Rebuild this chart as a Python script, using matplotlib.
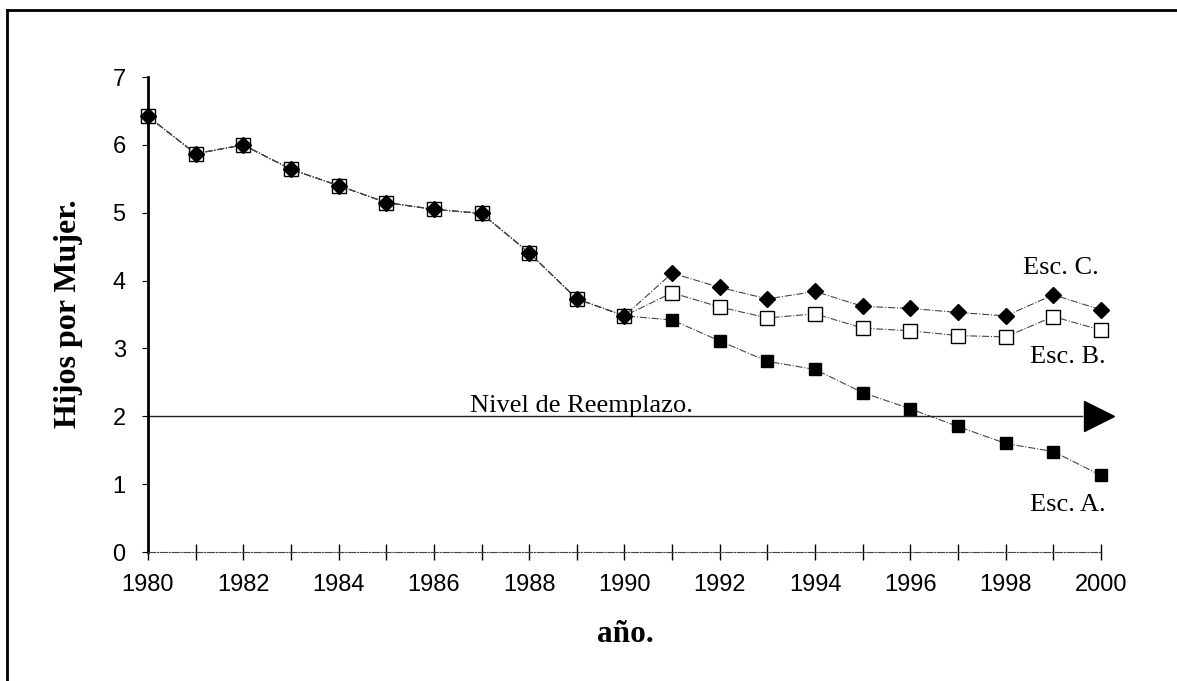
import matplotlib
matplotlib.use('Agg')
import matplotlib.pyplot as plt
from matplotlib.lines import Line2D

years = list(range(1980, 2001))

# history shared by the three scenarios (1980-1990)
historia = [6.42, 5.87, 6.00, 5.64, 5.40, 5.15, 5.05, 4.99, 4.41, 3.73, 3.48]

esc_a = historia + [3.42, 3.11, 2.81, 2.69, 2.35, 2.11, 1.85, 1.60, 1.48, 1.13]
esc_b = historia + [3.82, 3.61, 3.45, 3.51, 3.30, 3.26, 3.19, 3.17, 3.47, 3.27]
esc_c = historia + [4.11, 3.90, 3.73, 3.84, 3.62, 3.59, 3.53, 3.48, 3.79, 3.57]

nivel_reemplazo = 2.0

year_labels = [str(y) if y % 2 == 0 else '' for y in years]
serif = 'Liberation Serif'
sans = 'Liberation Sans'

fig = plt.figure(figsize=(11.77, 6.81), dpi=100)
ax = fig.add_axes([0.1257, 0.1894, 0.8097, 0.6975])

line_kw = dict(color='#444444', linestyle='-.', linewidth=0.8, clip_on=False)
ax.plot(years, esc_a, marker='s', markersize=9, markerfacecolor='black',
        markeredgecolor='black', **line_kw)
ax.plot(years, esc_b, marker='s', markersize=10, markerfacecolor='white',
        markeredgecolor='black', markeredgewidth=1.0, **line_kw)
ax.plot(years, esc_c, marker='D', markersize=8, markerfacecolor='black',
        markeredgecolor='black', **line_kw)

# replacement level line with arrow head
ax.plot([1980, 1999.6], [nivel_reemplazo, nivel_reemplazo], color='#222222', linewidth=1.0)
ax.plot([1999.95], [nivel_reemplazo], marker='>', markersize=22, color='black', clip_on=False)
ax.text(1989.1, nivel_reemplazo + 0.06, 'Nivel de Reemplazo.', family=serif, fontsize=19,
        ha='center', va='baseline')

ax.text(1999.15, 4.19, 'Esc. C.', family=serif, fontsize=19, ha='center', va='center')
ax.text(1999.3, 2.87, 'Esc. B.', family=serif, fontsize=19, ha='center', va='center')
ax.text(1999.3, 0.69, 'Esc. A.', family=serif, fontsize=19, ha='center', va='center')

ax.set_xlim(1980, 2000)
ax.set_ylim(0, 7)
ax.set_xticks(years)
ax.set_xticklabels(year_labels, family=sans, fontsize=17)
ax.set_yticks(range(0, 8))
ax.set_yticklabels([str(v) for v in range(0, 8)], family=sans, fontsize=17)
ax.tick_params(axis='x', direction='inout', length=12, width=1, pad=10)
ax.tick_params(axis='y', direction='out', length=4, width=0.8, pad=12)

for s in ['top', 'right']:
    ax.spines[s].set_visible(False)
ax.spines['left'].set_linewidth(2)
ax.spines['bottom'].set_linestyle('-.')
ax.spines['bottom'].set_linewidth(0.8)
ax.spines['bottom'].set_color('#444444')
ax.set_facecolor('none')

fig.text(0.058, 0.539, 'Hijos por Mujer.', family=serif, fontsize=23, fontweight='bold',
         rotation=90, ha='center', va='center')
fig.text(0.531, 0.069, 'año.', family=serif, fontsize=22.5, fontweight='bold',
         ha='center', va='center')

# frame of the scanned page (top and left only)
fig.add_artist(Line2D([0.006, 1.0], [0.986, 0.986], color='black', linewidth=2))
fig.add_artist(Line2D([0.006, 0.006], [0.0, 0.986], color='black', linewidth=2))

fig.savefig('out.png', dpi=100)
